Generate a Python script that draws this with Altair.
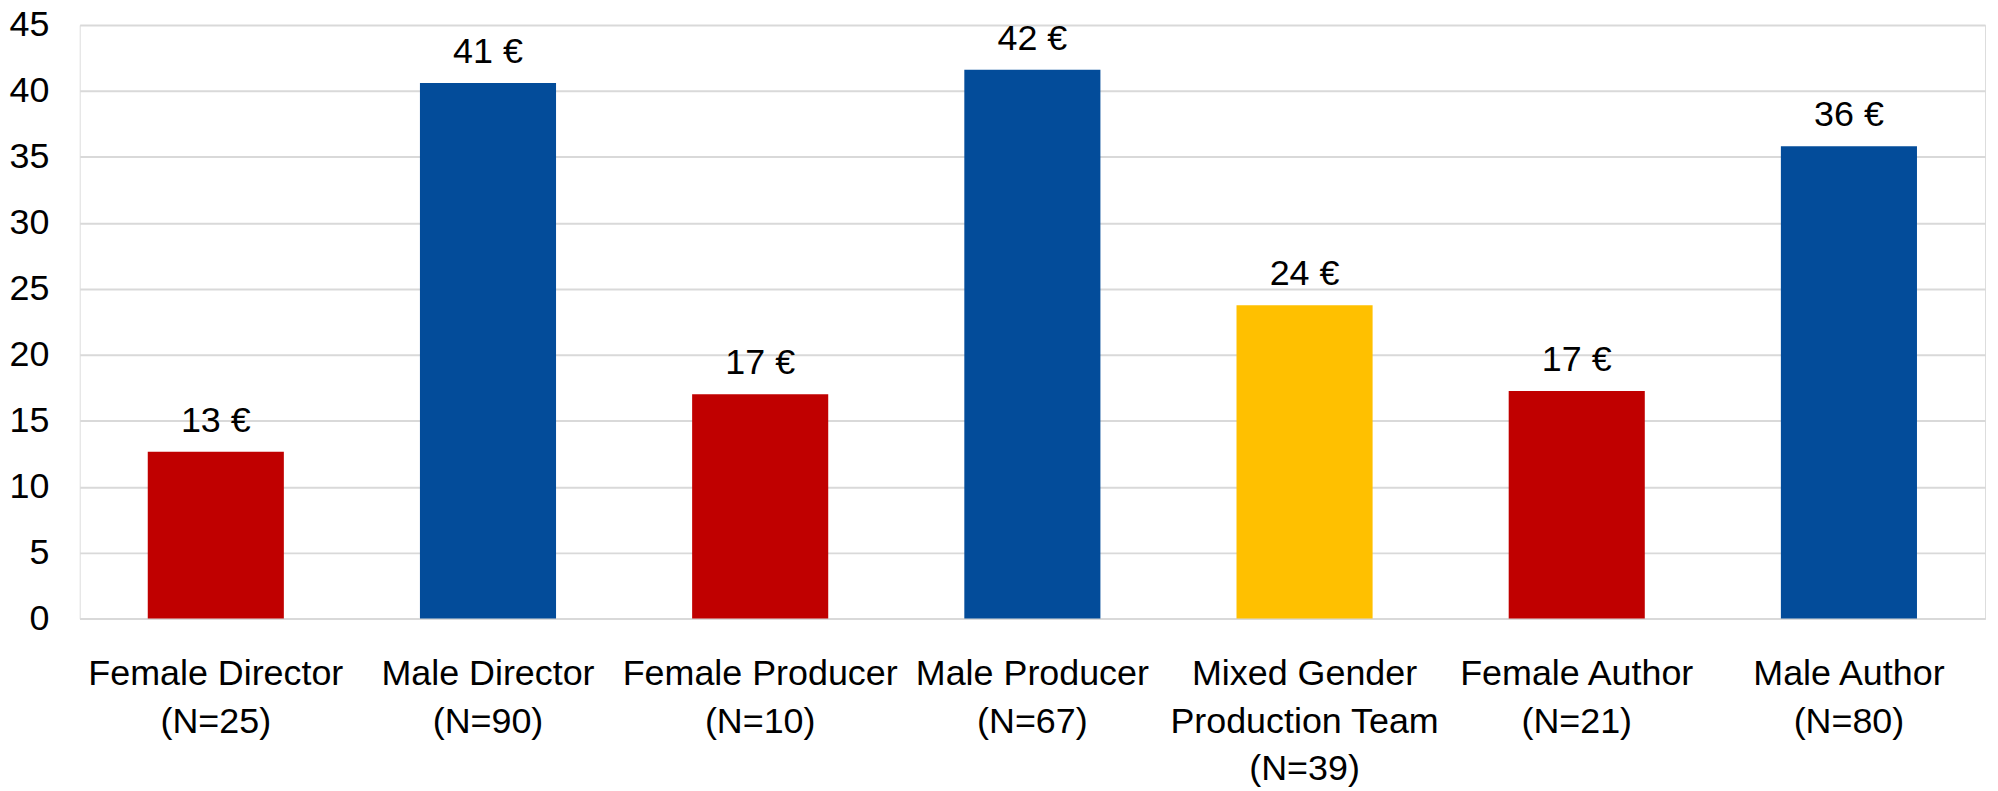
import altair as alt
import pandas as pd

categories = [
    "Female Director|(N=25)",
    "Male Director|(N=90)",
    "Female Producer|(N=10)",
    "Male Producer|(N=67)",
    "Mixed Gender|Production Team|(N=39)",
    "Female Author|(N=21)",
    "Male Author|(N=80)",
]
values = [12.65, 40.6, 17.0, 41.6, 23.75, 17.25, 35.8]
groups = ["Female", "Male", "Female", "Male", "Mixed", "Female", "Male"]
group_names = ["Female", "Male", "Mixed"]
group_colors = ["#C00000", "#034C9A", "#FFC000"]
y_ticks = [0, 5, 10, 15, 20, 25, 30, 35, 40, 45]

df = pd.DataFrame({"category": categories, "value": values, "group": groups})

FONT = "'Liberation Sans Narrow', 'Arial Narrow', 'Liberation Sans', Arial, sans-serif"
FS = 36

x = alt.X(
    "category:N",
    sort=categories,
    title=None,
    scale=alt.Scale(paddingInner=0.5, paddingOuter=0.25),
    axis=alt.Axis(
        labelExpr="split(datum.label, '|')",
        labelAngle=0,
        labelFont=FONT,
        labelFontSize=FS,
        labelColor="#000000",
        labelLineHeight=48,
        labelPadding=38,
        labelBaseline="top",
        labelLimit=0,
        labelOverlap=False,
        ticks=False,
        domain=True,
        domainColor="#d9d9d9",
        domainWidth=2,
        grid=False,
    ),
)

y = alt.Y(
    "value:Q",
    title=None,
    scale=alt.Scale(domain=[0, 45], nice=False),
    axis=alt.Axis(
        values=y_ticks,
        labelFont=FONT,
        labelFontSize=FS,
        labelColor="#000000",
        labelPadding=31,
        ticks=False,
        domain=False,
        grid=True,
        gridColor="#d9d9d9",
        gridWidth=2,
    ),
)

bars = alt.Chart(df).mark_bar().encode(
    x=x,
    y=y,
    color=alt.Color(
        "group:N",
        scale=alt.Scale(domain=group_names, range=group_colors),
        legend=None,
    ),
)

labels = alt.Chart(df).transform_calculate(
    lbl="format(datum.value, '.0f') + ' €'"
).mark_text(
    font=FONT, fontSize=FS, color="#000000", baseline="alphabetic", dy=-20
).encode(
    x=alt.X("category:N", sort=categories),
    y="value:Q",
    text="lbl:N",
)

chart = (
    alt.layer(bars, labels)
    .properties(
        width=1913,
        height=596,
        autosize=alt.AutoSizeParams(type="none"),
        padding={"left": 72, "top": 15.5, "right": 5, "bottom": 170},
    )
    .configure_view(stroke=None)
    .configure(background="white")
)

chart.save("out.html", embed_options={"renderer": "svg", "actions": False})
